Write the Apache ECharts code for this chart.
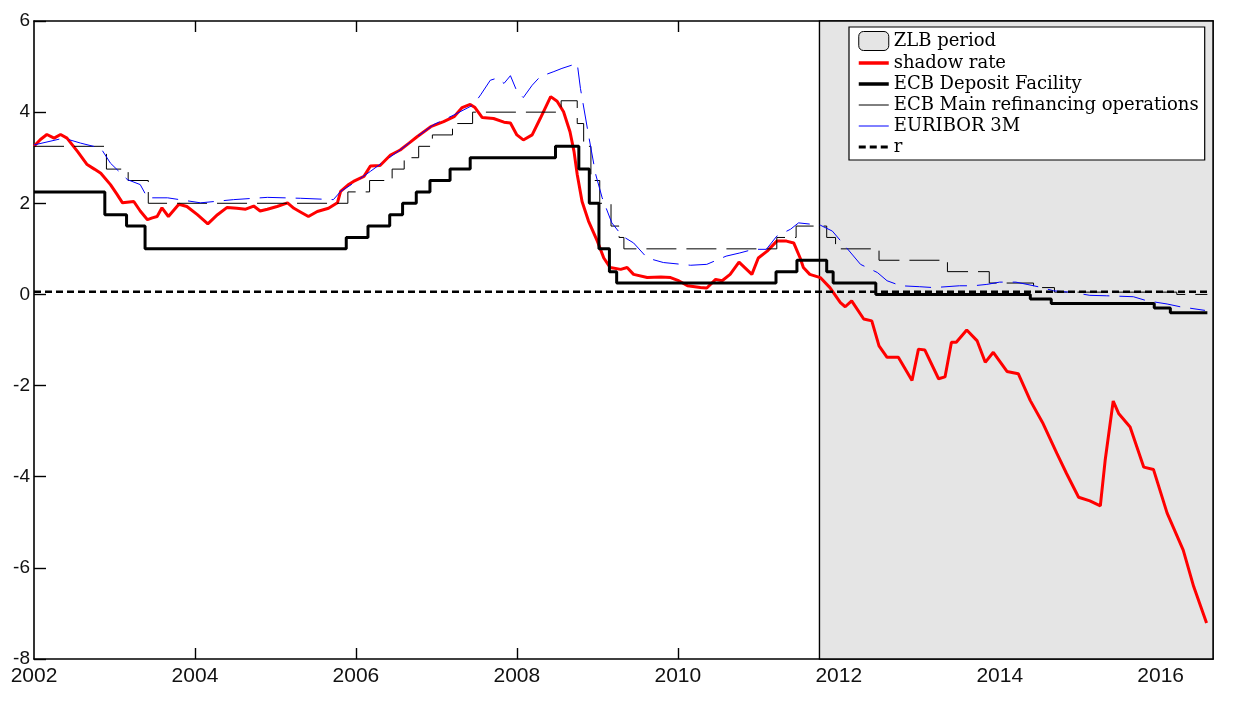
<!DOCTYPE html>
<html>
<head>
<meta charset="utf-8">
<script src="https://cdn.jsdelivr.net/npm/echarts@6/dist/echarts.min.js"></script>
<style>
    html, body {margin: 0; padding: 0; background: #fff;}
    #chart {width: 1234px; height: 703px;}
</style>
</head>
<body>
<div id="chart"></div>
<script>
// x positions are decimal years
const shadowYears = [
    2002.00, 2002.08, 2002.16, 2002.25, 2002.33, 2002.41, 2002.54, 2002.66, 2002.75, 2002.83, 2002.95,
    2003.03, 2003.10, 2003.24, 2003.32, 2003.41, 2003.47, 2003.53, 2003.59, 2003.67, 2003.80, 2003.90,
    2004.03, 2004.16, 2004.28, 2004.40, 2004.52, 2004.63, 2004.73, 2004.81, 2004.90,
    2005.02, 2005.15, 2005.23, 2005.31, 2005.41, 2005.52, 2005.66, 2005.77, 2005.81, 2005.90, 2005.97,
    2006.10, 2006.18, 2006.30, 2006.43, 2006.55, 2006.66, 2006.76, 2006.93,
    2007.09, 2007.22, 2007.32, 2007.42, 2007.48, 2007.57, 2007.71, 2007.84, 2007.92,
    2008.00, 2008.08, 2008.19, 2008.29, 2008.42, 2008.50, 2008.58, 2008.66, 2008.71, 2008.75, 2008.81, 2008.89,
    2009.00, 2009.08, 2009.16, 2009.29, 2009.37, 2009.45, 2009.62, 2009.79, 2009.91,
    2010.00, 2010.12, 2010.28, 2010.36, 2010.47, 2010.55, 2010.65, 2010.76, 2010.92,
    2011.00, 2011.11, 2011.23, 2011.35, 2011.44, 2011.52, 2011.56, 2011.64, 2011.77, 2011.89,
    2012.02, 2012.08, 2012.16, 2012.31, 2012.41, 2012.50, 2012.60, 2012.74, 2012.91, 2012.99,
    2013.07, 2013.24, 2013.32, 2013.40, 2013.46, 2013.59, 2013.72, 2013.82, 2013.92,
    2014.09, 2014.23, 2014.38, 2014.54, 2014.71, 2014.83, 2014.98,
    2015.12, 2015.25, 2015.31, 2015.41, 2015.48, 2015.62, 2015.79, 2015.91,
    2016.08, 2016.28, 2016.41, 2016.57
];
const shadowRate = [
    3.25, 3.40, 3.51, 3.43, 3.51, 3.43, 3.14, 2.85, 2.75, 2.66, 2.41,
    2.20, 2.01, 2.04, 1.83, 1.64, 1.68, 1.71, 1.90, 1.71, 1.98, 1.93,
    1.75, 1.55, 1.75, 1.91, 1.89, 1.87, 1.94, 1.83, 1.87,
    1.93, 2.01, 1.89, 1.81, 1.71, 1.82, 1.89, 2.01, 2.26, 2.40, 2.48,
    2.59, 2.82, 2.83, 3.06, 3.17, 3.32, 3.46, 3.68,
    3.79, 3.90, 4.10, 4.17, 4.10, 3.88, 3.86, 3.78, 3.76,
    3.50, 3.39, 3.50, 3.86, 4.34, 4.24, 4.01, 3.57, 3.14, 2.63, 2.04, 1.61,
    1.17, 0.80, 0.59, 0.55, 0.59, 0.44, 0.37, 0.38, 0.37,
    0.31, 0.19, 0.15, 0.14, 0.33, 0.30, 0.44, 0.71, 0.44,
    0.80, 0.95, 1.17, 1.17, 1.13, 0.80, 0.59, 0.44, 0.37, 0.15,
    -0.18, -0.27, -0.14, -0.54, -0.58, -1.13, -1.38, -1.38, -1.89, -1.20,
    -1.22, -1.85, -1.81, -1.05, -1.05, -0.78, -1.02, -1.49, -1.27,
    -1.69, -1.74, -2.33, -2.84, -3.49, -3.93, -4.45,
    -4.53, -4.64, -3.64, -2.34, -2.62, -2.91, -3.79, -3.84,
    -4.80, -5.61, -6.41, -7.21
];

const depositYears = [
    2002.00, 2002.88, 2003.15, 2003.38, 2005.88, 2006.15, 2006.42, 2006.58, 2006.75, 2006.92,
    2007.17, 2007.42, 2008.48, 2008.77, 2008.90, 2009.02, 2009.15, 2009.24,
    2011.22, 2011.48, 2011.85, 2011.93, 2012.46, 2014.38, 2014.64, 2015.92, 2016.12, 2016.58
];
const depositRate = [
    2.25, 1.75, 1.50, 1.00, 1.25, 1.50, 1.75, 2.00, 2.25, 2.50,
    2.75, 3.00, 3.25, 2.75, 2.00, 1.00, 0.50, 0.25,
    0.50, 0.75, 0.50, 0.25, 0.00, -0.10, -0.20, -0.30, -0.40, -0.40
];

const mroYears = [
    2002.00, 2002.90, 2003.17, 2003.42, 2005.90, 2006.17, 2006.45, 2006.60, 2006.78, 2006.95,
    2007.20, 2007.45, 2008.55, 2008.75, 2008.83, 2008.92, 2009.03, 2009.17, 2009.27, 2009.33,
    2011.23, 2011.47, 2011.85, 2011.96, 2012.50, 2013.35, 2013.87, 2014.42, 2014.68, 2016.20, 2016.58
];
const mroRate = [
    3.25, 2.75, 2.50, 2.00, 2.25, 2.50, 2.75, 3.00, 3.25, 3.50,
    3.75, 4.00, 4.25, 3.75, 3.25, 2.50, 2.00, 1.50, 1.25, 1.00,
    1.25, 1.50, 1.25, 1.00, 0.75, 0.50, 0.25, 0.15, 0.05, 0.00, 0.00
];

const euriborYears = [
    2002.00, 2002.37, 2002.58, 2002.83, 2002.95, 2003.16, 2003.32, 2003.41, 2003.66,
    2004.07, 2004.48, 2004.90, 2005.31, 2005.72, 2005.81, 2005.97,
    2006.18, 2006.35, 2006.55, 2006.76, 2006.97, 2007.22, 2007.46, 2007.55, 2007.67, 2007.76, 2007.84, 2007.92,
    2008.00, 2008.08, 2008.19, 2008.29, 2008.46, 2008.56, 2008.75, 2008.79, 2008.89, 2008.98,
    2009.06, 2009.18, 2009.31, 2009.45, 2009.62, 2009.82,
    2010.16, 2010.36, 2010.60, 2010.77, 2010.94, 2011.10, 2011.23, 2011.40, 2011.50, 2011.77, 2011.92,
    2012.06, 2012.27, 2012.48, 2012.60, 2012.77, 2013.00, 2013.18, 2013.50, 2013.67, 2013.84,
    2014.00, 2014.20, 2014.34, 2014.50, 2014.67, 2014.92, 2015.12, 2015.33, 2015.66, 2015.83,
    2016.08, 2016.24, 2016.55
];
const euribor = [
    3.28, 3.43, 3.32, 3.21, 2.88, 2.52, 2.41, 2.12, 2.12,
    2.01, 2.08, 2.13, 2.11, 2.08, 2.26, 2.44,
    2.70, 2.92, 3.17, 3.46, 3.73, 3.94, 4.16, 4.38, 4.70, 4.75, 4.63, 4.80,
    4.46, 4.32, 4.59, 4.78, 4.89, 4.96, 5.07, 4.52, 3.50, 2.63,
    2.12, 1.57, 1.28, 1.13, 0.80, 0.70,
    0.64, 0.66, 0.84, 0.91, 0.99, 0.99, 1.28, 1.43, 1.57, 1.52, 1.39,
    1.10, 0.66, 0.48, 0.30, 0.19, 0.17, 0.15, 0.19, 0.19, 0.22,
    0.27, 0.27, 0.22, 0.16, 0.08, 0.04, -0.02, -0.03, -0.05, -0.14,
    -0.21, -0.27, -0.35
];

const rYears = [2002.00, 2016.60];
const rLevel = [0.06, 0.06];

const zlbPeriod = [2011.76, 2016.65];
const yearTicks = [2002, 2004, 2006, 2008, 2010, 2012, 2014, 2016];
const yTicks = [-8, -6, -4, -2, 0, 2, 4, 6];

function pairs(xs, ys) {
    return xs.map(function (x, i) {
        return [x, ys[i]];
    });
}

const chart = echarts.init(document.getElementById('chart'), null, {renderer: 'canvas'});

const noSymbol = {opacity: 0};
const boxTicks = [2004, 2006, 2008, 2010]; // ticks only show outside the grey area

const option = {
    backgroundColor: '#ffffff',
    animation: false,
    grid: {left: 34, right: 21, top: 21, bottom: 44},
    legend: {
        orient: 'vertical',
        left: 849,
        top: 27,
        padding: [4, 6, 4, 8],
        itemGap: 3,
        itemWidth: 30,
        itemHeight: 19,
        backgroundColor: '#ffffff',
        borderColor: '#000000',
        borderWidth: 1.2,
        selectedMode: false,
        textStyle: {
            fontFamily: 'DejaVu Serif',
            fontSize: 18,
            color: '#000000'
        },
        data: [
            {name: 'ZLB period', icon: 'roundRect', itemStyle: {color: '#e5e5e5', borderColor: '#000', borderWidth: 1}},
            {name: 'shadow rate', itemStyle: noSymbol, lineStyle: {color: '#ff0000', width: 3.5}},
            {name: 'ECB Deposit Facility', itemStyle: noSymbol, lineStyle: {color: '#000000', width: 3.5}},
            {name: 'ECB Main refinancing operations', itemStyle: noSymbol, lineStyle: {color: '#000000', type: 'solid', width: 1}},
            {name: 'EURIBOR 3M', itemStyle: noSymbol, lineStyle: {color: '#0000ff', type: 'solid', width: 1}},
            {name: 'r', itemStyle: noSymbol, lineStyle: {color: '#000000', width: 3}}
        ]
    },
    xAxis: [{
        type: 'value',
        min: yearTicks[0],
        max: zlbPeriod[1],
        interval: 2,
        position: 'bottom',
        axisLine: {show: true, onZero: false, lineStyle: {color: '#000', width: 1.6}},
        axisTick: {show: true, inside: true, length: 11, customValues: boxTicks, lineStyle: {color: '#000', width: 1.4}},
        splitLine: {show: false},
        axisLabel: {
            margin: 7,
            color: '#111',
            fontFamily: 'Liberation Sans',
            fontSize: 21,
            customValues: yearTicks,
            formatter: function (v) {
                return String(v);
            }
        }
    }, {
        type: 'value',
        min: yearTicks[0],
        max: zlbPeriod[1],
        interval: 2,
        position: 'top',
        axisLine: {show: true, onZero: false, lineStyle: {color: '#000', width: 1.6}},
        axisTick: {show: true, inside: true, length: 11, customValues: boxTicks, lineStyle: {color: '#000', width: 1.4}},
        axisLabel: {show: false},
        splitLine: {show: false}
    }],
    yAxis: [{
        type: 'value',
        min: yTicks[0],
        max: yTicks[yTicks.length - 1],
        interval: 2,
        position: 'left',
        axisLine: {show: true, onZero: false, lineStyle: {color: '#000', width: 1.6}},
        axisTick: {show: true, inside: true, length: 12, lineStyle: {color: '#000', width: 1.4}},
        splitLine: {show: false},
        axisLabel: {
            margin: 4,
            color: '#111',
            fontFamily: 'Liberation Sans',
            fontSize: 19
        }
    }, {
        type: 'value',
        min: yTicks[0],
        max: yTicks[yTicks.length - 1],
        interval: 2,
        position: 'right',
        axisLine: {show: true, onZero: false, lineStyle: {color: '#000', width: 1.6}},
        axisTick: {show: false},
        axisLabel: {show: false},
        splitLine: {show: false}
    }],
    series: [
        {
            name: 'ZLB period',
            type: 'line',
            data: [],
            itemStyle: {color: '#e5e5e5'},
            markArea: {
                silent: true,
                itemStyle: {color: '#e5e5e5', borderColor: '#000', borderWidth: 1.4},
                data: [[{xAxis: zlbPeriod[0]}, {xAxis: zlbPeriod[1]}]]
            },
            z: 1
        },
        {
            name: 'shadow rate',
            type: 'line',
            data: pairs(shadowYears, shadowRate),
            symbol: 'none',
            color: '#ff0000',
            lineStyle: {color: '#ff0000', width: 3},
            z: 3
        },
        {
            name: 'ECB Deposit Facility',
            type: 'line',
            step: 'end',
            data: pairs(depositYears, depositRate),
            symbol: 'none',
            color: '#000000',
            lineStyle: {color: '#000000', width: 3},
            z: 4
        },
        {
            name: 'ECB Main refinancing operations',
            type: 'line',
            step: 'end',
            data: pairs(mroYears, mroRate),
            symbol: 'none',
            color: '#000000',
            lineStyle: {color: '#000000', width: 1, type: [30, 10]},
            z: 5
        },
        {
            name: 'EURIBOR 3M',
            type: 'line',
            data: pairs(euriborYears, euribor),
            symbol: 'none',
            color: '#0000ff',
            lineStyle: {color: '#0000ff', width: 1, type: [26, 10]},
            z: 6
        },
        {
            name: 'r',
            type: 'line',
            data: pairs(rYears, rLevel),
            symbol: 'none',
            color: '#000000',
            lineStyle: {color: '#000000', width: 2.6, type: [7, 4]},
            z: 7
        }
    ]
};

chart.setOption(option);
</script>
</body>
</html>
